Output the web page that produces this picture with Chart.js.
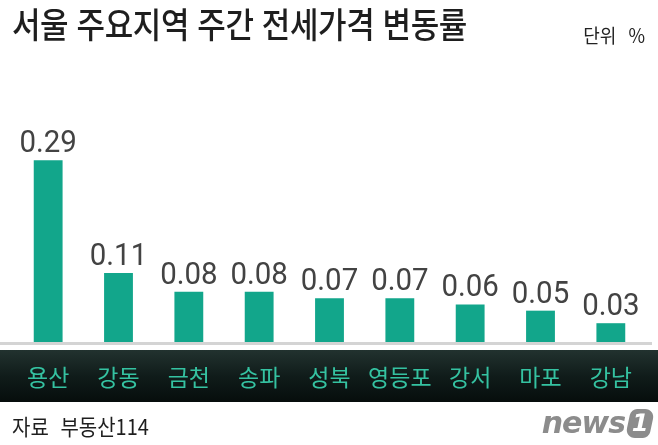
<!DOCTYPE html>
<html lang="ko">
<head>
<meta charset="utf-8">
<title>서울 주요지역 주간 전세가격 변동률</title>
<script src="https://cdn.jsdelivr.net/npm/chart.js@4.4.1/dist/chart.umd.min.js"></script>
<style>
	html, body { margin: 0; padding: 0; background: #fff; }
	.jeonse-wrap { position: relative; width: 658px; height: 445px; overflow: hidden; }
	#jeonse-chart { position: absolute; left: 0; top: 0; }
	.jeonse-title {
		position: absolute; left: 12px; top: 5px; margin: 0;
		font: 500 31px/1 "Noto Sans CJK KR", sans-serif; color: #1e1e1e;
		letter-spacing: -0.4px; transform: scaleY(1.14); transform-origin: left top;
		white-space: nowrap;
	}
	.jeonse-unit {
		position: absolute; right: 13px; top: 24px;
		font: 400 18px/1 "Noto Sans CJK KR", sans-serif; color: #222;
		word-spacing: 7px; transform: scaleY(1.1); transform-origin: right top;
	}
	.jeonse-source {
		position: absolute; left: 12px; top: 416px;
		font: 400 20px/1 "Noto Sans CJK KR", sans-serif; color: #1e1e1e;
		word-spacing: 6px; transform: scaleY(1.08); transform-origin: left top;
	}
	.jeonse-logo {
		position: absolute; right: 6px; top: 407px; height: 32px;
		display: flex; align-items: center; color: #8c8c8c;
	}
	.jeonse-logo .news { font: italic 900 30px/1 "DejaVu Sans", sans-serif; letter-spacing: -1px; }
	.jeonse-logo .one {
		margin-left: 3px; width: 24px; height: 29px; border-radius: 6px 10px 6px 10px;
		background: #8c8c8c; color: #fff; transform: skewX(-12deg);
		font: 900 24px/29px "DejaVu Sans", sans-serif; text-align: center;
	}
</style>
</head>
<body>
<div class="jeonse-wrap">
	<canvas id="jeonse-chart" width="658" height="445"></canvas>
	<h1 class="jeonse-title">서울 주요지역 주간 전세가격 변동률</h1>
	<div class="jeonse-unit">단위 %</div>
	<div class="jeonse-source">자료 부동산114</div>
	<div class="jeonse-logo"><span class="news">news</span><span class="one">1</span></div>
</div>
<script>
// 지역별 주간 전세가격 변동률 (%)
const regions = ['용산', '강동', '금천', '송파', '성북', '영등포', '강서', '마포', '강남'];
const changeRates = [0.29, 0.11, 0.08, 0.08, 0.07, 0.07, 0.06, 0.05, 0.03];
const rateLabels = ['0.29', '0.11', '0.08', '0.08', '0.07', '0.07', '0.06', '0.05', '0.03'];

const BAR_COLOR = '#12a68b';
const LABEL_COLOR = '#35c2a1';

// dark band behind the region names + grey base line
const bandPlugin = {
	id: 'jeonseBand',
	beforeDraw: (chart) => {
		const ctx = chart.ctx;
		const top = chart.chartArea.bottom + 8;
		let grad = ctx.createLinearGradient(0, top, 0, top + 52);
		grad.addColorStop(0, '#22322f');
		grad.addColorStop(0.5, '#101c1a');
		grad.addColorStop(1, '#060d0c');
		ctx.save();
		ctx.fillStyle = grad;
		ctx.fillRect(0, top, chart.width, 52);
		ctx.restore();
	},
	afterDatasetsDraw: (chart) => {
		const ctx = chart.ctx;
		ctx.save();
		ctx.fillStyle = '#d4d4d4';
		ctx.fillRect(0, chart.chartArea.bottom, 652, 3);
		ctx.restore();
	}
};

// value text above every bar
const valuePlugin = {
	id: 'jeonseValues',
	afterDatasetsDraw: (chart) => {
		const ctx = chart.ctx;
		const meta = chart.getDatasetMeta(0);
		ctx.save();
		ctx.font = '400 32px Roboto, sans-serif';
		ctx.fillStyle = '#434343';
		ctx.textAlign = 'center';
		ctx.textBaseline = 'alphabetic';
		meta.data.forEach((bar, i) => {
			ctx.save();
			ctx.translate(bar.x, bar.y - 8);
			ctx.scale(0.92, 1);
			ctx.fillText(rateLabels[i], 0, 0);
			ctx.restore();
		});
		ctx.restore();
	}
};

const drawChart = () => {
	const ctx = document.getElementById('jeonse-chart');
	new Chart(ctx, {
		type: 'bar',
		data: {
			labels: regions,
			datasets: [{
				data: changeRates,
				backgroundColor: BAR_COLOR,
				borderWidth: 0,
				barPercentage: 0.41,
				categoryPercentage: 1
			}]
		},
		options: {
			responsive: false,
			animation: false,
			devicePixelRatio: 1,
			layout: {
				padding: { top: 60, left: 13, right: 12, bottom: 0 }
			},
			plugins: {
				legend: { display: false },
				tooltip: { enabled: false }
			},
			scales: {
				x: {
					grid: { display: false, drawTicks: false },
					border: { display: false },
					ticks: {
						color: LABEL_COLOR,
						padding: 21,
						font: { family: '"Noto Sans CJK KR", sans-serif', size: 23, weight: '400' }
					},
					afterFit: (scale) => { scale.height = 103; }
				},
				y: {
					display: false,
					min: 0,
					max: 0.45
				}
			}
		},
		plugins: [bandPlugin, valuePlugin]
	});
};

document.addEventListener('DOMContentLoaded', drawChart);
</script>
</body>
</html>
